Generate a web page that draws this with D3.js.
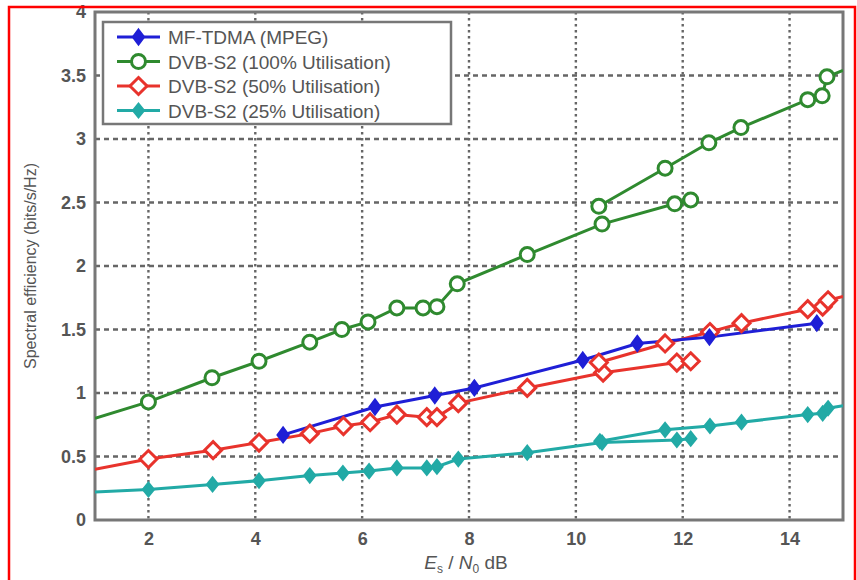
<!DOCTYPE html>
<html>
<head>
<meta charset="utf-8">
<script src="https://cdnjs.cloudflare.com/ajax/libs/d3/7.8.5/d3.min.js"></script>
<style>
  body { margin: 0; background: #fff; }
  svg { display: block; font-family: "Liberation Sans", Arial, sans-serif; }
</style>
</head>
<body>
<svg id="chart"></svg>
<script>
let width = 857;
let height = 580;

// x tick values and y tick values
let xTicks = [2, 4, 6, 8, 10, 12, 14];
let yTicks = [0, 0.5, 1, 1.5, 2, 2.5, 3, 3.5, 4];

// each series is made of one or two polylines
let mfTdma = [
  [[4.52, 0.67], [6.24, 0.89], [7.36, 0.98], [8.1, 1.04], [10.13, 1.26], [11.15, 1.39], [12.5, 1.44], [14.51, 1.55]]
];
let dvb100 = [
  [[1, 0.80], [2, 0.93], [3.19, 1.12], [4.07, 1.25], [5.02, 1.40], [5.62, 1.50], [6.11, 1.56], [6.65, 1.67],
   [7.14, 1.67], [7.4, 1.68], [7.78, 1.86], [9.09, 2.09], [10.49, 2.33], [11.85, 2.49], [12.15, 2.52]],
  [[10.43, 2.47], [11.67, 2.77], [12.49, 2.97], [13.09, 3.09], [14.34, 3.31], [14.61, 3.34], [14.7, 3.49], [15, 3.54]]
];
let dvb50 = [
  [[1, 0.40], [2, 0.48], [3.21, 0.55], [4.07, 0.61], [5.02, 0.68], [5.65, 0.74], [6.15, 0.77], [6.65, 0.83],
   [7.21, 0.81], [7.4, 0.81], [7.8, 0.92], [9.09, 1.04], [10.51, 1.16], [11.89, 1.24], [12.15, 1.25]],
  [[10.43, 1.24], [11.67, 1.39], [12.51, 1.48], [13.1, 1.55], [14.34, 1.66], [14.62, 1.68], [14.72, 1.73], [15, 1.76]]
];
let dvb25 = [
  [[1, 0.22], [2, 0.24], [3.2, 0.28], [4.07, 0.31], [5.02, 0.35], [5.64, 0.37], [6.13, 0.385], [6.65, 0.41],
   [7.21, 0.41], [7.4, 0.42], [7.8, 0.48], [9.09, 0.53], [10.49, 0.61], [11.89, 0.63], [12.15, 0.64]],
  [[10.45, 0.62], [11.67, 0.71], [12.51, 0.74], [13.1, 0.77], [14.34, 0.83], [14.62, 0.84], [14.72, 0.88], [15, 0.90]]
];

let seriesNames = ["MF-TDMA (MPEG)", "DVB-S2 (100% Utilisation)", "DVB-S2 (50% Utilisation)", "DVB-S2 (25% Utilisation)"];
let seriesColors = ["#1f1fd6", "#2f8a2f", "#e8332c", "#22aaa6"];
let seriesMarkers = ["fdiamond", "circle", "odiamond", "fstar"];
let seriesData = [mfTdma, dvb100, dvb50, dvb25];

let svg = d3.select("#chart").attr("width", width).attr("height", height);

let xScale = d3.scaleLinear().domain([1, 15]).range([95, 843]);
let yScale = d3.scaleLinear().domain([0, 4]).range([520, 12]);

// soft grey vignette bottom-left like the photo
let defs = svg.append("defs");
let grad = defs.append("radialGradient").attr("id", "vig")
  .attr("cx", "0%").attr("cy", "100%").attr("r", "100%");
grad.append("stop").attr("offset", "0%").attr("stop-color", "#9a9a9a").attr("stop-opacity", 0.7);
grad.append("stop").attr("offset", "60%").attr("stop-color", "#cfcfcf").attr("stop-opacity", 0.3);
grad.append("stop").attr("offset", "100%").attr("stop-color", "#fff").attr("stop-opacity", 0);
svg.append("ellipse").attr("cx", 10).attr("cy", 640).attr("rx", 160).attr("ry", 80).attr("fill", "url(#vig)");

defs.append("clipPath").attr("id", "plotclip")
  .append("rect").attr("x", 95).attr("y", 12).attr("width", 748).attr("height", 508);

// grid
let grid = svg.append("g");
grid.selectAll(".vg").data(xTicks).enter().append("line")
  .attr("x1", (d) => xScale(d)).attr("x2", (d) => xScale(d))
  .attr("y1", yScale(4)).attr("y2", yScale(0))
  .attr("stroke", "#666").attr("stroke-width", 2.4).attr("stroke-dasharray", "2.5,3.5");
grid.selectAll(".hg").data(yTicks.filter((d) => d > 0 && d < 4)).enter().append("line")
  .attr("y1", (d) => yScale(d)).attr("y2", (d) => yScale(d))
  .attr("x1", xScale(1)).attr("x2", xScale(15))
  .attr("stroke", "#666").attr("stroke-width", 2.4).attr("stroke-dasharray", "5,4");

// axes
let xAxis = d3.axisBottom(xScale).tickValues(xTicks).tickSize(0).tickPadding(12).tickFormat(d3.format("d"));
let yAxis = d3.axisLeft(yScale).tickValues(yTicks).tickSize(0).tickPadding(9).tickFormat((d) => d);

let gx = svg.append("g").attr("transform", "translate(0," + yScale(0) + ")").call(xAxis);
let gy = svg.append("g").attr("transform", "translate(" + xScale(1) + ",0)").call(yAxis);
[gx, gy].forEach((g) => {
  g.select(".domain").remove();
  g.selectAll("text").attr("fill", "#555").attr("font-size", 18).attr("font-weight", "bold");
});

// frame
svg.append("rect").attr("x", xScale(1)).attr("y", yScale(4))
  .attr("width", xScale(15) - xScale(1)).attr("height", yScale(0) - yScale(4))
  .attr("fill", "none").attr("stroke", "#777").attr("stroke-width", 3);

// lines
let line = d3.line().x((d) => xScale(d[0])).y((d) => yScale(d[1]));
let plot = svg.append("g").attr("clip-path", "url(#plotclip)");

let drawMarker = (g, type, color, x, y) => {
  if (type === "circle") {
    g.append("circle").attr("cx", x).attr("cy", y).attr("r", 7)
      .attr("fill", "#fff").attr("stroke", color).attr("stroke-width", 3);
  } else if (type === "odiamond") {
    let s = 8.5;
    g.append("path").attr("d", `M${x},${y - s}L${x + s},${y}L${x},${y + s}L${x - s},${y}Z`)
      .attr("fill", "#fff").attr("stroke", color).attr("stroke-width", 3);
  } else if (type === "fdiamond") {
    let s = 7.5;
    g.append("path").attr("d", `M${x},${y - s}L${x + s * 0.75},${y}L${x},${y + s}L${x - s * 0.75},${y}Z`)
      .attr("fill", color).attr("stroke", color).attr("stroke-width", 2);
  } else {
    let s = 7;
    g.append("path").attr("d", `M${x},${y - s}L${x + s * 0.8},${y}L${x},${y + s}L${x - s * 0.8},${y}Z`)
      .attr("fill", color).attr("stroke", color).attr("stroke-width", 2);
  }
};

// draw green first then others, blue above red like the picture
let order = [1, 3, 2, 0];
order.forEach((i) => {
  seriesData[i].forEach((seg) => {
    plot.append("path").datum(seg).attr("d", line)
      .attr("fill", "none").attr("stroke", seriesColors[i]).attr("stroke-width", 3);
  });
});
order.forEach((i) => {
  let g = plot.append("g");
  seriesData[i].forEach((seg) => {
    seg.filter((d) => d[0] > 1 && d[0] < 15).forEach((d) => {
      drawMarker(g, seriesMarkers[i], seriesColors[i], xScale(d[0]), yScale(d[1]));
    });
  });
});

// legend
let legend = svg.append("g");
legend.append("rect").attr("x", 103).attr("y", 22).attr("width", 348).attr("height", 102)
  .attr("fill", "#fff").attr("stroke", "#777").attr("stroke-width", 2.5);
seriesNames.forEach((name, i) => {
  let y = 37 + i * 24.5;
  legend.append("line").attr("x1", 117).attr("x2", 160).attr("y1", y).attr("y2", y)
    .attr("stroke", seriesColors[i]).attr("stroke-width", 3);
  drawMarker(legend, seriesMarkers[i], seriesColors[i], 138.5, y);
  legend.append("text").attr("x", 168).attr("y", y + 7).text(name)
    .attr("fill", "#555").attr("font-size", 19);
});

// axis titles
svg.append("text")
  .attr("transform", "translate(36," + 266 + ") rotate(-90)")
  .attr("text-anchor", "middle").attr("fill", "#555").attr("font-size", 16)
  .text("Spectral efficiency (bits/s/Hz)");

let xt = svg.append("text").attr("x", 466).attr("y", 569).attr("text-anchor", "middle")
  .attr("fill", "#555").attr("font-size", 19);
xt.append("tspan").attr("font-style", "italic").text("E");
xt.append("tspan").attr("font-size", 12).attr("dy", 4).text("s");
xt.append("tspan").attr("dy", -4).text(" / ");
xt.append("tspan").attr("font-style", "italic").text("N");
xt.append("tspan").attr("font-size", 12).attr("dy", 4).text("0");
xt.append("tspan").attr("dy", -4).text(" dB");

// red outline of the screenshot
svg.append("path").attr("d", "M9,600V7H855V600")
  .attr("fill", "none").attr("stroke", "#ff0000").attr("stroke-width", 2.5);
</script>
</body>
</html>
